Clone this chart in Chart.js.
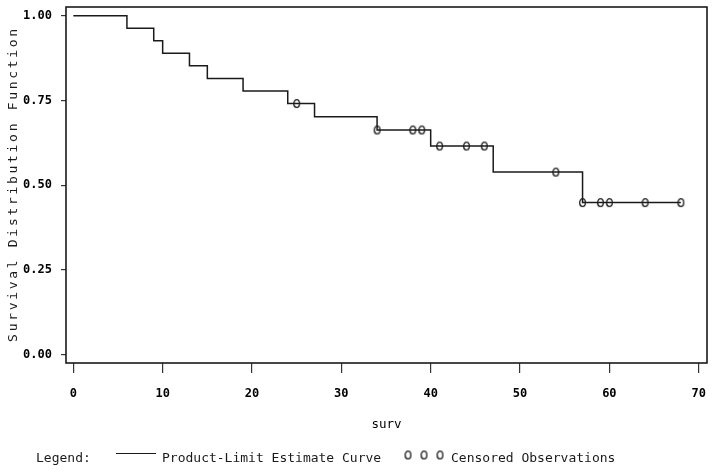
<!DOCTYPE html>
<html>
<head>
<meta charset="utf-8">
<script src="https://cdn.jsdelivr.net/npm/chart.js@4/dist/chart.umd.min.js"></script>
<style>
  html, body { margin: 0; padding: 0; background: #fff; }
  #wrap { position: relative; width: 714px; height: 472px; }
</style>
</head>
<body>
<div id="wrap"><canvas id="c"></canvas></div>
<script>
// Product-limit (Kaplan-Meier) estimate: event times and survival after each step
const eventTimes = [0, 6, 9, 10, 13, 15, 19, 24, 27, 34, 40, 47, 57, 68];
const survivalValues = [1.0, 0.9630, 0.9259, 0.8889, 0.8519, 0.8148, 0.7778, 0.7407, 0.7018, 0.6628, 0.6154, 0.5385, 0.4487, 0.4487];
// Censored observations
const censoredTimes = [25, 34, 38, 39, 41, 44, 46, 54, 57, 59, 60, 64, 68];
const censoredValues = [0.7407, 0.6628, 0.6628, 0.6628, 0.6154, 0.6154, 0.6154, 0.5385, 0.4487, 0.4487, 0.4487, 0.4487, 0.4487];
// Tick labels
const xTickValues = [0, 10, 20, 30, 40, 50, 60, 70];
const yTickValues = [0.00, 0.25, 0.50, 0.75, 1.00];
const xTitle = 'surv';
const yTitle = 'Survival Distribution Function';
const legendLabel = 'Legend:';
const curveLabel = 'Product-Limit Estimate Curve';
const censoredLabel = 'Censored Observations';

const INK = '#1a1a1a';
const MONO = '"DejaVu Sans Mono", "Liberation Mono", monospace';

function ellipseImage(w, h, lw) {
  const cv = document.createElement('canvas');
  cv.width = w + 2; cv.height = h + 2;
  const g = cv.getContext('2d');
  g.strokeStyle = INK; g.lineWidth = lw;
  g.beginPath();
  g.ellipse(cv.width / 2, cv.height / 2, w / 2 - lw / 2, h / 2 - lw / 2, 0, 0, Math.PI * 2);
  g.stroke();
  return cv;
}
const censorMark = ellipseImage(7, 9, 1.3);

const curveData = eventTimes.map((t, i) => ({ x: t, y: survivalValues[i] }));
const censorData = censoredTimes.map((t, i) => ({ x: t, y: censoredValues[i] }));

const framePlugin = {
  id: 'frame',
  beforeDatasetsDraw(chart) {
    const { ctx, chartArea: a } = chart;
    ctx.save();
    ctx.strokeStyle = INK;
    ctx.lineWidth = 1.6;
    ctx.strokeRect(a.left, a.top, a.right - a.left, a.bottom - a.top);
    ctx.restore();
  },
  afterDraw(chart) {
    const { ctx, chartArea: a } = chart;
    ctx.save();
    // Y axis title with wide letter spacing
    ctx.fillStyle = INK;
    ctx.font = '13px ' + MONO;
    ctx.letterSpacing = '2.7px';
    ctx.textAlign = 'center';
    ctx.textBaseline = 'middle';
    ctx.translate(14, (a.top + a.bottom) / 2 - 1);
    ctx.rotate(-Math.PI / 2);
    ctx.fillText(yTitle, 0, 0);
    ctx.restore();

    // SAS style legend row
    ctx.save();
    ctx.fillStyle = INK;
    ctx.strokeStyle = INK;
    ctx.font = '13px ' + MONO;
    ctx.textBaseline = 'middle';
    ctx.textAlign = 'left';
    const ly = 459;
    ctx.fillText(legendLabel, 36, ly);
    ctx.lineWidth = 1.2;
    ctx.beginPath();
    ctx.moveTo(116, 453.5);
    ctx.lineTo(156, 453.5);
    ctx.stroke();
    ctx.fillText(curveLabel, 162, ly);
    [408, 424, 440].forEach(cx => {
      ctx.drawImage(censorMark, cx - censorMark.width / 2, 455 - censorMark.height / 2);
    });
    ctx.fillText(censoredLabel, 451, ly);
    ctx.restore();
  }
};

new Chart(document.getElementById('c'), {
  type: 'line',
  data: {
    datasets: [
      {
        label: curveLabel,
        data: curveData,
        stepped: 'before',
        borderColor: INK,
        borderWidth: 1.5,
        pointRadius: 0,
        fill: false
      },
      {
        label: censoredLabel,
        data: censorData,
        showLine: false,
        pointStyle: censorMark,
        pointRadius: 5,
        borderColor: INK
      }
    ]
  },
  options: {
    responsive: true,
    maintainAspectRatio: false,
    animation: false,
    events: [],
    layout: { padding: { left: 0, top: 7, right: 7, bottom: 0 } },
    plugins: { legend: { display: false }, tooltip: { enabled: false } },
    scales: {
      x: {
        type: 'linear',
        min: -0.82,
        max: 70.93,
        afterBuildTicks(scale) { scale.ticks = xTickValues.map(v => ({ value: v })); },
        afterFit(scale) {
          scale.height = 109;
          scale.paddingLeft = 0; scale.paddingRight = 0;
        },
        border: { display: false },
        grid: { drawOnChartArea: false, drawTicks: true, tickLength: 10, color: '#333', lineWidth: 1.2 },
        ticks: {
          color: '#000',
          padding: 14,
          maxRotation: 0,
          font: { family: MONO, size: 12, weight: 'bold' },
          callback: v => String(v)
        },
        title: {
          display: true,
          text: xTitle,
          color: '#000',
          font: { family: MONO, size: 12.5 },
          padding: { top: 0, bottom: 40 }
        }
      },
      y: {
        type: 'linear',
        min: -0.0245,
        max: 1.0255,
        afterBuildTicks(scale) { scale.ticks = yTickValues.map(v => ({ value: v })); },
        afterFit(scale) {
          scale.width = 66;
          scale.paddingTop = 0; scale.paddingBottom = 0;
        },
        border: { display: false },
        grid: { drawOnChartArea: false, drawTicks: true, tickLength: 5, color: '#333', lineWidth: 1.2 },
        ticks: {
          color: '#000',
          padding: 9,
          font: { family: MONO, size: 12, weight: 'bold' },
          callback: v => Number(v).toFixed(2)
        }
      }
    }
  },
  plugins: [framePlugin]
});
</script>
</body>
</html>
